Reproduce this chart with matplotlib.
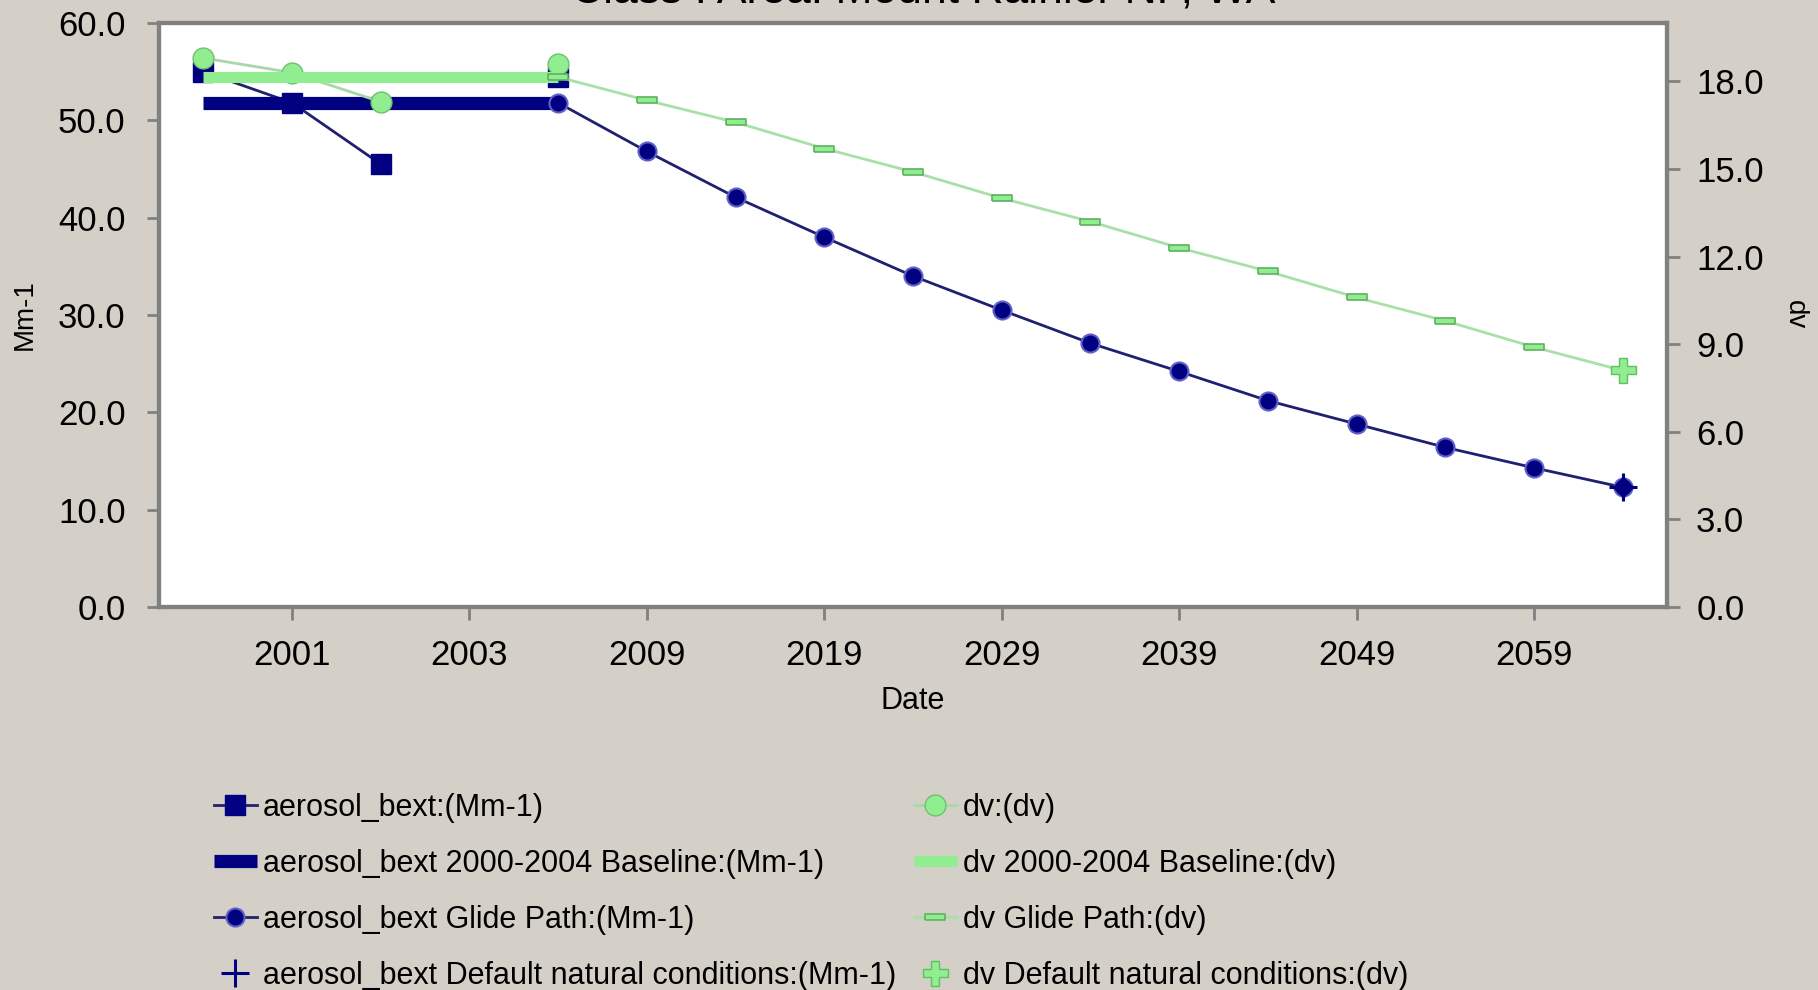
import matplotlib
matplotlib.use("Agg")
import matplotlib.pyplot as plt
import numpy as np

plt.rcParams['font.family'] = ['Liberation Sans', 'DejaVu Sans']

# categories on the Date axis (one slot per year shown)
years = ['2000', '2001', '2002', '2003', '2004', '2009', '2014', '2019', '2024',
         '2029', '2034', '2039', '2044', '2049', '2054', '2059', '2064']
tick_years = ['2001', '2003', '2009', '2019', '2029', '2039', '2049', '2059']

nan = np.nan
# left axis, Mm-1
bext = [55.0, 51.8, 45.5, nan, 54.5] + [nan] * 12
bext_baseline = [51.8, 51.8, 51.8, 51.8, 51.8] + [nan] * 12
bext_glide = [nan] * 4 + [51.8, 46.8, 42.1, 38.0, 34.0, 30.5, 27.1, 24.2,
                          21.2, 18.8, 16.4, 14.3, 12.3]
bext_natural = [nan] * 16 + [12.3]

# right axis, dv
dv = [18.8, 18.3, 17.3, nan, 18.6] + [nan] * 12
dv_baseline = [18.15, 18.15, 18.15, 18.15, 18.15] + [nan] * 12
dv_glide = [nan] * 4 + [18.15, 17.35, 16.6, 15.7, 14.9, 14.0, 13.2, 12.3,
                        11.5, 10.6, 9.8, 8.9, 8.1]
dv_natural = [nan] * 16 + [8.1]

navy = '#000080'
green = '#90EE90'
bg = '#D4D0C8'
x = np.arange(len(years))

fig = plt.figure(figsize=(18.18, 9.90), dpi=100, facecolor=bg)
ax = fig.add_axes([159 / 1818, 1 - 607 / 990, (1667 - 159) / 1818, (607 - 23) / 990])
ax.set_facecolor('white')
ax2 = ax.twinx()

h1, = ax.plot(x, bext, color='#202070', lw=2, marker='s', ms=14, mfc=navy, mec=navy,
              label='aerosol_bext:(Mm-1)')
h2, = ax.plot(x, bext_baseline, color=navy, lw=9.5, solid_capstyle='butt',
              label='aerosol_bext 2000-2004 Baseline:(Mm-1)')
h3, = ax.plot(x, bext_glide, color='#202070', lw=2, marker='o', ms=13, mfc=navy, mec='#6060c8',
              mew=1.5, label='aerosol_bext Glide Path:(Mm-1)')
ax.plot(x, bext_natural, ls='none', marker='D', ms=10, color=navy)
h4, = ax.plot(x, bext_natural, ls='none', marker='+', ms=20, mew=2.2, color=navy,
              label='aerosol_bext Default natural conditions:(Mm-1)')

rect = [(-1, -0.35), (1, -0.35), (1, 0.35), (-1, 0.35), (-1, -0.35)]
h5, = ax2.plot(x, dv, color='#a8d8a8', lw=2, marker='o', ms=15, mfc=green, mec='#70c070',
               label='dv:(dv)')
h6, = ax2.plot(x, dv_baseline, color=green, lw=8, solid_capstyle='butt',
               label='dv 2000-2004 Baseline:(dv)')
h7, = ax2.plot(x, dv_glide, color='#a8e0a8', lw=2, marker=rect, ms=14, mfc=green, mec='#60b060',
               mew=1.2, label='dv Glide Path:(dv)')
h8, = ax2.plot(x, dv_natural, ls='none', marker='P', ms=18, mfc=green, mec='#60c060',
               label='dv Default natural conditions:(dv)')

ax.set_xlim(-0.5, 16.5)
ax.set_ylim(0, 60)
ax2.set_ylim(0, 20)
ax.set_xticks([years.index(t) for t in tick_years])
ax.set_xticklabels(tick_years)
ax.set_yticks(np.arange(0, 61, 10))
ax.set_yticklabels([f'{v:.1f}' for v in np.arange(0, 61, 10)])
ax2.set_yticks(np.arange(0, 19, 3))
ax2.set_yticklabels([f'{v:.1f}' for v in np.arange(0, 19, 3)])

for a in (ax, ax2):
    for s in a.spines.values():
        s.set_color('#808080')
        s.set_linewidth(3)
    a.tick_params(colors='#808080', labelcolor='black', labelsize=25, length=9, width=2, pad=15)
ax.tick_params(axis='x', pad=14)
ax2.tick_params(axis='y', pad=12)

ax.set_xlabel('Date', fontsize=22, labelpad=10)
fig.text(25 / 1818, 1 - 315 / 990, 'Mm-1', rotation=90, fontsize=20, ha='center', va='center')
fig.text(1795 / 1818, 1 - 315 / 990, 'dv', rotation=270, fontsize=20, ha='center', va='center')

# title sits mostly above the top edge, as in the source image
fig.text(923 / 1818, 1 - 2 / 990, 'Class I Area: Mount Rainier NP, WA', fontsize=32,
         ha='center', va='baseline')

leg_kw = dict(frameon=False, fontsize=22, handlelength=1.4, handletextpad=0.2,
              labelspacing=0.85, borderpad=0, borderaxespad=0)
fig.legend(handles=[h1, h2, h3, h4], loc='upper left',
           bbox_to_anchor=(214 / 1818, 1 - 793 / 990), **leg_kw)
fig.legend(handles=[h5, h6, h7, h8], loc='upper left',
           bbox_to_anchor=(914 / 1818, 1 - 793 / 990), **leg_kw)

fig.savefig('out.png', dpi=100, facecolor=bg)
